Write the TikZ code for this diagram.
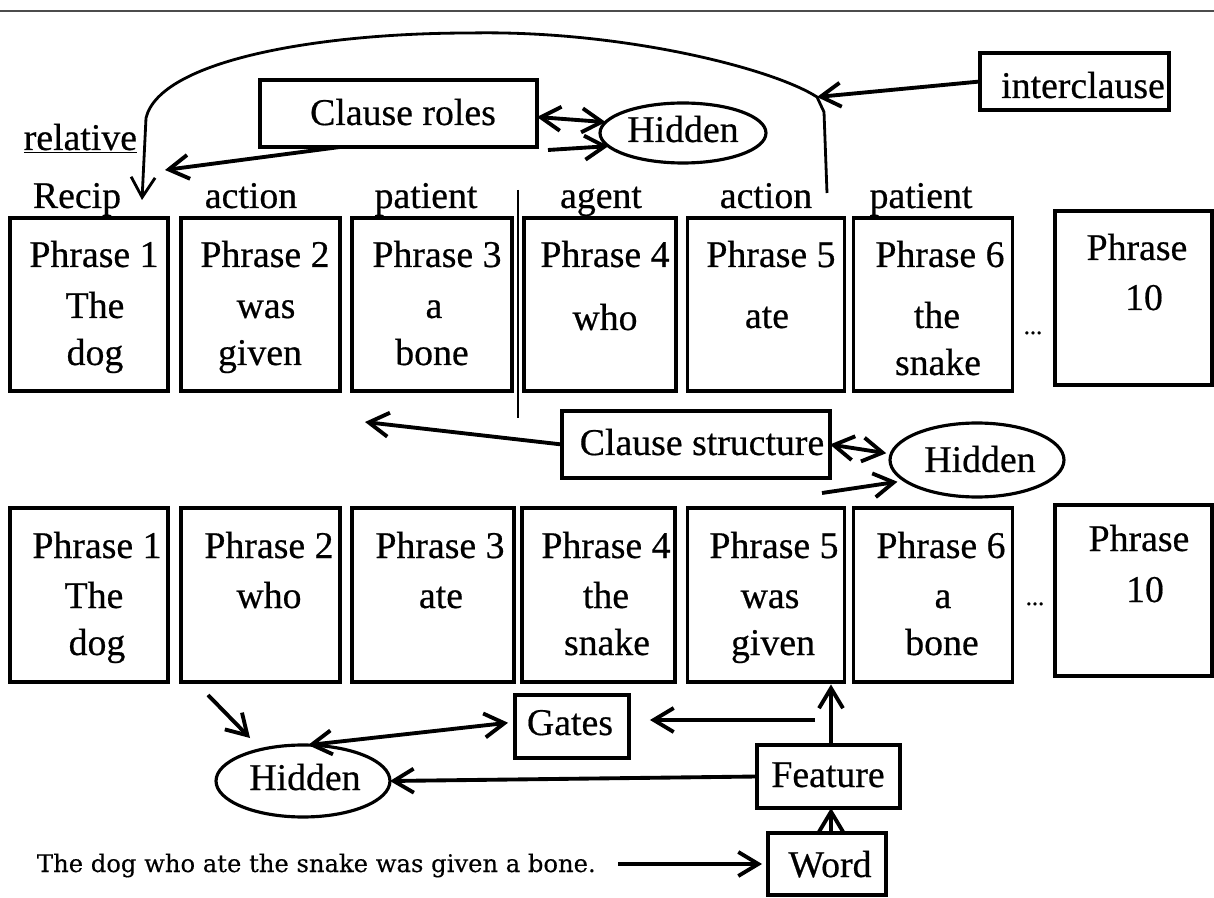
\documentclass[tikz,border=0pt]{standalone}
\usepackage{fontspec}
\setmainfont{Liberation Serif}[FakeBold=0.5]
\newfontfamily\sentfont{DejaVu Serif}[FakeBold=0.3]
\usetikzlibrary{arrows.meta,shapes.geometric}
\begin{document}
\begin{tikzpicture}[x=0.02cm,y=-0.02cm,
  every node/.style={font=\fontsize{21.5}{26}\selectfont, inner sep=0pt, outer sep=0pt},
  pbox/.style={draw, line width=1.8pt, rectangle},
  hid/.style={draw, line width=1.8pt, ellipse},
  txt/.style={anchor=base},
  tip/.style={-{Straight Barb[length=4mm,width=4.8mm]}},
  arr/.style={line width=2.2pt, tip},
  darr/.style={line width=2.2pt, {Straight Barb[length=4mm,width=4.8mm]}-{Straight Barb[length=4mm,width=4.8mm]}},
  arcline/.style={line width=1.6pt, tip},
  dots/.style={anchor=base, font=\fontsize{14}{16}\selectfont},
]
\useasboundingbox (0,0) rectangle (1214,898);

% rule across the top
\coordinate (ruleL) at (0,11);
\coordinate (ruleR) at (1214,11);
\draw[gray!60!black, line width=1.2pt] (ruleL) -- (ruleR);

% ---------- upper row of phrase slots ----------
\node[pbox, minimum width=3.16cm, minimum height=3.46cm] (t1) at (89,304.5) {};
\node[pbox, minimum width=3.18cm, minimum height=3.46cm] (t2) at (260.5,304.5) {};
\node[pbox, minimum width=3.20cm, minimum height=3.46cm] (t3) at (432,304.5) {};
\node[pbox, minimum width=3.04cm, minimum height=3.46cm] (t4) at (600,304.5) {};
\node[pbox, minimum width=3.14cm, minimum height=3.46cm] (t5) at (766,304.5) {};
\node[pbox, minimum width=3.18cm, minimum height=3.46cm] (t6) at (933,304.5) {};
\node[pbox, minimum width=3.14cm, minimum height=3.48cm] (t10) at (1133.5,298) {};

\node[txt] (t1a) at (94,267) {Phrase 1};
\node[txt] (t1b) at (95,318) {The};
\node[txt] (t1c) at (95,365) {dog};
\node[txt] (t2a) at (265,267) {Phrase 2};
\node[txt] (t2b) at (266,318) {was};
\node[txt] (t2c) at (260,365) {given};
\node[txt] (t3a) at (437,267) {Phrase 3};
\node[txt] (t3b) at (434,318) {a};
\node[txt] (t3c) at (432,365) {bone};
\node[txt] (t4a) at (605,267) {Phrase 4};
\node[txt] (t4b) at (605,330) {who};
\node[txt] (t5a) at (771,267) {Phrase 5};
\node[txt] (t5b) at (767,328) {ate};
\node[txt] (t6a) at (940,267) {Phrase 6};
\node[txt] (t6b) at (937,328) {the};
\node[txt] (t6c) at (938,375) {snake};
\node[txt] (t10a) at (1137,260) {Phrase};
\node[txt] (t10b) at (1144,310) {10};
\node[dots] (tdots) at (1033,334) {...};

% role labels above the upper row
\node[txt] (rRecip) at (77,208) {Recip};
\node[txt] (rAct1) at (251,208) {action};
\node[txt] (rPat1) at (426,208) {patient};
\node[txt] (rAgent) at (601,208) {agent};
\node[txt] (rAct2) at (766,208) {action};
\node[txt] (rPat2) at (921,208) {patient};
\node[txt, anchor=base east] (rel) at (137,150) {\underline{relative}};

% clause boundary
\coordinate (divTop) at (518,190);
\coordinate (divBot) at (518,418);
\draw[line width=1.5pt] (divTop) -- (divBot);

% ---------- clause roles ----------
\node[pbox, minimum width=5.54cm, minimum height=1.34cm] (cr) at (398.5,113.5) {};
\node[txt] (crT) at (403,125) {Clause roles};
\node[hid, minimum width=3.32cm, minimum height=1.2cm] (h1) at (683,133) {};
\node[txt] (h1T) at (683,142) {Hidden};
\node[pbox, minimum width=3.78cm, minimum height=1.14cm] (ic) at (1074.5,81.5) {};
\node[txt] (icT) at (1083,98) {interclause};

\coordinate (recipIn) at (165,170);
\coordinate (h1src) at (548,150);
\coordinate (arcPt) at (817,97);
\coordinate (legTop) at (146,118);
\coordinate (legEnd) at (142,200);
\coordinate (rlegBot) at (827,193);

\draw[arr] ([xshift=-1.17cm]cr.south) -- (recipIn);
\draw[darr] ([yshift=-0.07cm]cr.east) -- (h1.172);
\draw[arr] (h1src) -- (h1.190);
\draw[arr] (ic.west) -- (arcPt);
\draw[arcline] (rlegBot) -- (824,112) -- (arcPt)
  .. controls (772,68) and (620,30) .. (470,33)
  .. controls (320,33) and (160,60) .. (legTop) -- (legEnd);

% ---------- clause structure ----------
\node[pbox, minimum width=5.36cm, minimum height=1.34cm] (cs) at (696,444.5) {};
\node[txt] (csT) at (702,455) {Clause structure};
\node[hid, minimum width=3.48cm, minimum height=1.48cm] (h2) at (977,460) {};
\node[txt] (h2T) at (980,472) {Hidden};
\coordinate (csOut) at (365,422);
\coordinate (h2src) at (822,493);

\draw[arr] (cs.west) -- (csOut);
\draw[darr, shorten >=0.1cm] (cs.east) -- (h2.176);
\draw[arr, shorten >=0.15cm] (h2src) -- (h2.196);

% ---------- lower row of phrase slots ----------
\node[pbox, minimum width=3.16cm, minimum height=3.48cm] (b1) at (89,595) {};
\node[pbox, minimum width=3.18cm, minimum height=3.48cm] (b2) at (260.5,595) {};
\node[pbox, minimum width=3.24cm, minimum height=3.48cm] (b3) at (433,595) {};
\node[pbox, minimum width=3.06cm, minimum height=3.48cm] (b4) at (598.5,595) {};
\node[pbox, minimum width=3.14cm, minimum height=3.48cm] (b5) at (766,595) {};
\node[pbox, minimum width=3.18cm, minimum height=3.48cm] (b6) at (933,595) {};
\node[pbox, minimum width=3.14cm, minimum height=3.42cm] (b10) at (1133.5,590.5) {};

\node[txt] (b1a) at (97,558) {Phrase 1};
\node[txt] (b1b) at (94,608) {The};
\node[txt] (b1c) at (97,655) {dog};
\node[txt] (b2a) at (269,558) {Phrase 2};
\node[txt] (b2b) at (269,608) {who};
\node[txt] (b3a) at (440,558) {Phrase 3};
\node[txt] (b3b) at (441,608) {ate};
\node[txt] (b4a) at (606,558) {Phrase 4};
\node[txt] (b4b) at (606,608) {the};
\node[txt] (b4c) at (607,655) {snake};
\node[txt] (b5a) at (774,558) {Phrase 5};
\node[txt] (b5b) at (770,608) {was};
\node[txt] (b5c) at (773,655) {given};
\node[txt] (b6a) at (941,558) {Phrase 6};
\node[txt] (b6b) at (943,608) {a};
\node[txt] (b6c) at (942,655) {bone};
\node[txt] (b10a) at (1139,551) {Phrase};
\node[txt] (b10b) at (1145,602) {10};
\node[dots] (bdots) at (1035,605) {...};

% ---------- word input and gating ----------
\node[pbox, minimum width=2.28cm, minimum height=1.26cm] (gt) at (572,726.5) {};
\node[txt] (gtT) at (570,735) {Gates};
\node[pbox, minimum width=2.86cm, minimum height=1.26cm] (fe) at (828.5,776.5) {};
\node[txt] (feT) at (828,787) {Feature};
\node[pbox, minimum width=2.36cm, minimum height=1.24cm] (wd) at (827,864) {};
\node[txt] (wdT) at (830,877) {Word};
\node[hid, minimum width=3.48cm, minimum height=1.44cm] (h3) at (303,781) {};
\node[txt] (h3T) at (305,790) {Hidden};
\node[anchor=base west, font=\sentfont\fontsize{13.8}{16}\selectfont] (sent) at (37,872)
  {The dog who ate the snake was given a bone.};

\coordinate (p2out) at (208,695);
\coordinate (h3in) at (250,738);
\coordinate (gtsrc) at (815,720);

\draw[arr] (p2out) -- (h3in);
\draw[darr, shorten >=0.14cm] (h3.82) -- ([yshift=0.09cm]gt.west);
\draw[arr, shorten >=0.42cm] (gtsrc) -- (gtsrc -| gt.east);
\draw[arr] (fe.west) -- (h3.east);
\draw[arr, shorten >=0.05cm] ([xshift=0.05cm]fe.north) -- ([xshift=0.05cm]fe.north |- b5.south);
\draw[arr] ([xshift=0.08cm]wd.north) -- ([xshift=0.08cm]wd.north |- fe.south);
\draw[arr, shorten <=0.45cm, shorten >=0.12cm] (sent.east |- wd.west) -- (wd.west);
\end{tikzpicture}
\end{document}
